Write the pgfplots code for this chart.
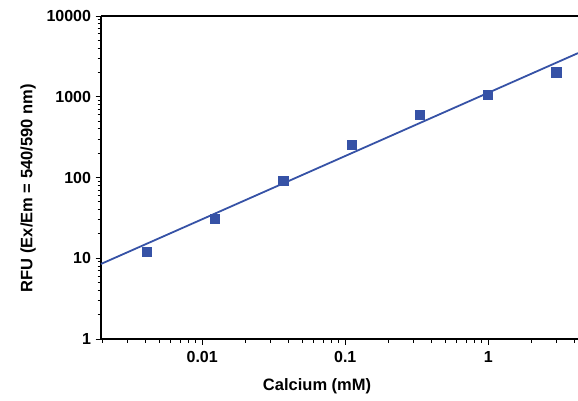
\documentclass[border=0pt]{standalone}
\usepackage{pgfplots}
\pgfplotsset{compat=1.18}
\usepackage{fontspec}
\setmainfont{Liberation Sans}
\usetikzlibrary{calc}
\definecolor{ser}{HTML}{3652A6}
\begin{document}
\begin{tikzpicture}[x=1pt,y=1pt]
\begin{axis}[
  at={(0,0)}, anchor=south west,
  scale only axis, width=477pt, height=323pt,
  xmode=log, ymode=log,
  xmin=0.00196, xmax=4.24, ymin=1, ymax=10000,
  axis lines=left, axis line style={-, line width=1.1pt},
  every tick/.style={black, line width=0.9pt},
  tick align=outside,
  major tick length=5.5pt, minor tick length=3.5pt,
  log ticks with fixed point,
  /pgf/number format/assume math mode=true,
  /pgf/number format/1000 sep={},
  tick label style={font=\fontsize{16}{18}\selectfont\bfseries},
  xticklabel style={yshift=-3pt},
  yticklabel style={xshift=-1pt},
  xlabel={Calcium (mM)}, ylabel={RFU (Ex/Em = 540/590 nm)},
  label style={font=\fontsize{16.5}{19}\selectfont\bfseries},
  xlabel style={at={(rel axis cs:0.453,-0.1455)}, anchor=center},
  ylabel style={at={(rel axis cs:-0.153,0.467)}, anchor=center},
  clip=false,
]
\addplot[ser, line width=1.8pt, no marks] coordinates {(0.00196,8.5) (4.24,3470)};
\addplot[only marks, mark=square*, mark size=4.6pt, mark options={fill=ser, draw=ser, line width=0pt}] coordinates {
(0.004115,11.9) (0.01235,30.5) (0.037,90) (0.111,251) (0.333,592) (1,1050) (3,2000)};
\draw[line width=1.1pt] (rel axis cs:0,1) -- (rel axis cs:1,1);
\coordinate (bl) at (rel axis cs:0,0);
\end{axis}
\pgfresetboundingbox
\path ($(bl)+(-101pt,-61pt)$) rectangle ($(bl)+(477pt,339pt)$);
\end{tikzpicture}
\end{document}
